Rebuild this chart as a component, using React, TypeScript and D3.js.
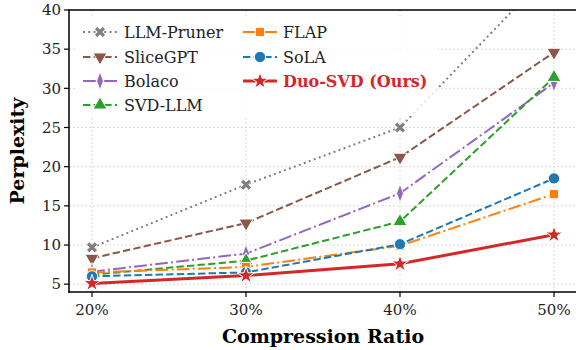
import React from "react"
import * as d3 from "d3"

const ratios = ["20%", "30%", "40%", "50%"]
const yTicks = [5, 10, 15, 20, 25, 30, 35, 40]

const seriesNames = ["LLM-Pruner", "SliceGPT", "Bolaco", "SVD-LLM", "FLAP", "SoLA", "Duo-SVD (Ours)"]
const llmPruner = [9.7, 17.7, 25.0, 45.4]
const sliceGPT = [8.3, 12.8, 21.2, 34.6]
const bolaco = [6.6, 8.9, 16.6, 30.7]
const svdLLM = [6.2, 8.0, 13.0, 31.4]
const flap = [6.5, 7.2, 9.9, 16.5]
const sola = [6.0, 6.5, 10.1, 18.5]
const duoSVD = [5.1, 6.1, 7.6, 11.3]

const colors = ["#7f7f7f", "#8c564b", "#9467bd", "#2ca02c", "#ff7f0e", "#1f77b4", "#d62728"]
const dashes = ["2,3.3", "7.4,3.2", "12.8,3.2,2,3.2", "7.4,3.2", "12.8,3.2,2,3.2", "7.4,3.2", ""]
const markers = ["x", "tridown", "thindiamond", "triup", "square", "circle", "star"]

const W = 576
const H = 350
const left = 69, right = 577, top = 10, bottom = 292
const font = "DejaVu Serif"

const App: React.FC = () => {
  const allData = [llmPruner, sliceGPT, bolaco, svdLLM, flap, sola, duoSVD]

  const x = d3.scalePoint<string>().domain(ratios).range([92, 554])
  const y = d3.scaleLinear().domain([4, 40]).range([bottom, top])

  const line = d3.line<number>()
    .x((_, i) => x(ratios[i]) as number)
    .y(d => y(d))

  const markerPath = (kind: string) => {
    switch (kind) {
      case "x": return d3.symbol(d3.symbolCross, 75)()
      case "tridown": return d3.symbol(d3.symbolTriangle, 85)()
      case "thindiamond": return d3.symbol(d3.symbolDiamond, 95)()
      case "triup": return d3.symbol(d3.symbolTriangle, 85)()
      case "square": return d3.symbol(d3.symbolSquare, 85)()
      case "circle": return d3.symbol(d3.symbolCircle, 100)()
      default: return d3.symbol(d3.symbolStar, 90)()
    }
  }
  const markerTransform = (kind: string) => {
    if (kind === "x") return " rotate(45)"
    if (kind === "tridown") return " rotate(180)"
    if (kind === "thindiamond") return " scale(0.65,1)"
    return ""
  }

  const marker = (kind: string, cx: number, cy: number, color: string, key: string) => (
    <path key={key} d={markerPath(kind) || ""} transform={`translate(${cx},${cy})${markerTransform(kind)}`}
      fill={color} stroke="#fff" strokeWidth={kind === "x" ? 0.8 : 1} />
  )

  // legend layout
  const legendRows = [32, 57, 81, 105]
  const legendCols = [{ hx: 83, tx: 124 }, { hx: 243, tx: 283 }]

  return (
    <svg width={W} height={H} style={{ position: "absolute", left: 0, top: 0, background: "#fff" }}
      fontFamily={font}>
      <defs>
        <clipPath id="plot-clip">
          <rect x={left} y={top} width={right - left} height={bottom - top} />
        </clipPath>
      </defs>

      {/* grid */}
      <g stroke="#d0d0d0" strokeWidth={0.8} strokeDasharray="2,2">
        {yTicks.map(t => <line key={"gy" + t} x1={left} x2={right} y1={y(t)} y2={y(t)} />)}
        {ratios.map(r => <line key={"gx" + r} x1={x(r)} x2={x(r)} y1={top} y2={bottom} />)}
      </g>

      {/* series */}
      <g clipPath="url(#plot-clip)">
        {allData.map((vals, si) => (
          <path key={"l" + si} d={line(vals) || ""} fill="none" stroke={colors[si]}
            strokeWidth={si === 6 ? 3 : 2} strokeDasharray={dashes[si]} />
        ))}
        {allData.map((vals, si) =>
          vals.map((v, i) => marker(markers[si], x(ratios[i]) as number, y(v), colors[si], `m${si}-${i}`))
        )}
      </g>

      {/* spines */}
      <g stroke="#000" strokeWidth={1.5} fill="none">
        <line x1={left} x2={left} y1={top} y2={bottom + 0.75} />
        <line x1={left - 0.75} x2={right} y1={bottom} y2={bottom} />
        <line x1={left - 0.75} x2={right} y1={top} y2={top} />
        <line x1={right} x2={right} y1={top} y2={bottom} />
      </g>

      {/* y axis */}
      {yTicks.map(t => (
        <g key={"yt" + t}>
          <line x1={left - 5} x2={left} y1={y(t)} y2={y(t)} stroke="#000" strokeWidth={1.2} />
          <text x={left - 8} y={y(t)} dy="0.35em" textAnchor="end" fontSize={15} fill="#222">{t}</text>
        </g>
      ))}
      {/* x axis */}
      {ratios.map(r => (
        <g key={"xt" + r}>
          <line x1={x(r)} x2={x(r)} y1={bottom} y2={bottom + 5} stroke="#000" strokeWidth={1.2} />
          <text x={x(r)} y={bottom + 23} textAnchor="middle" fontSize={15} fill="#222">{r}</text>
        </g>
      ))}

      <text x={(left + right) / 2} y={343} textAnchor="middle" fontSize={19} fontWeight="bold">Compression Ratio</text>
      <text transform={`translate(24,${(top + bottom) / 2}) rotate(-90)`} textAnchor="middle" fontSize={19}
        fontWeight="bold">Perplexity</text>

      {/* legend */}
      <rect x={76} y={18} width={362} height={98} fill="#fff" opacity={0.8} />
      {seriesNames.map((name, si) => {
        const col = si < 4 ? legendCols[0] : legendCols[1]
        const row = si < 4 ? legendRows[si] : legendRows[si - 4]
        const isOurs = si === 6
        return (
          <g key={"lg" + si}>
            <line x1={col.hx} x2={col.hx + 34} y1={row} y2={row} stroke={colors[si]}
              strokeWidth={isOurs ? 3 : 2} strokeDasharray={dashes[si]} />
            {marker(markers[si], col.hx + 17, row, colors[si], "lm" + si)}
            <text x={col.tx} y={row} dy="0.35em" fontSize={16} fill={isOurs ? colors[6] : "#222"}
              fontWeight={isOurs ? "bold" : "normal"}>{name}</text>
          </g>
        )
      })}
    </svg>
  )
}

export default App
